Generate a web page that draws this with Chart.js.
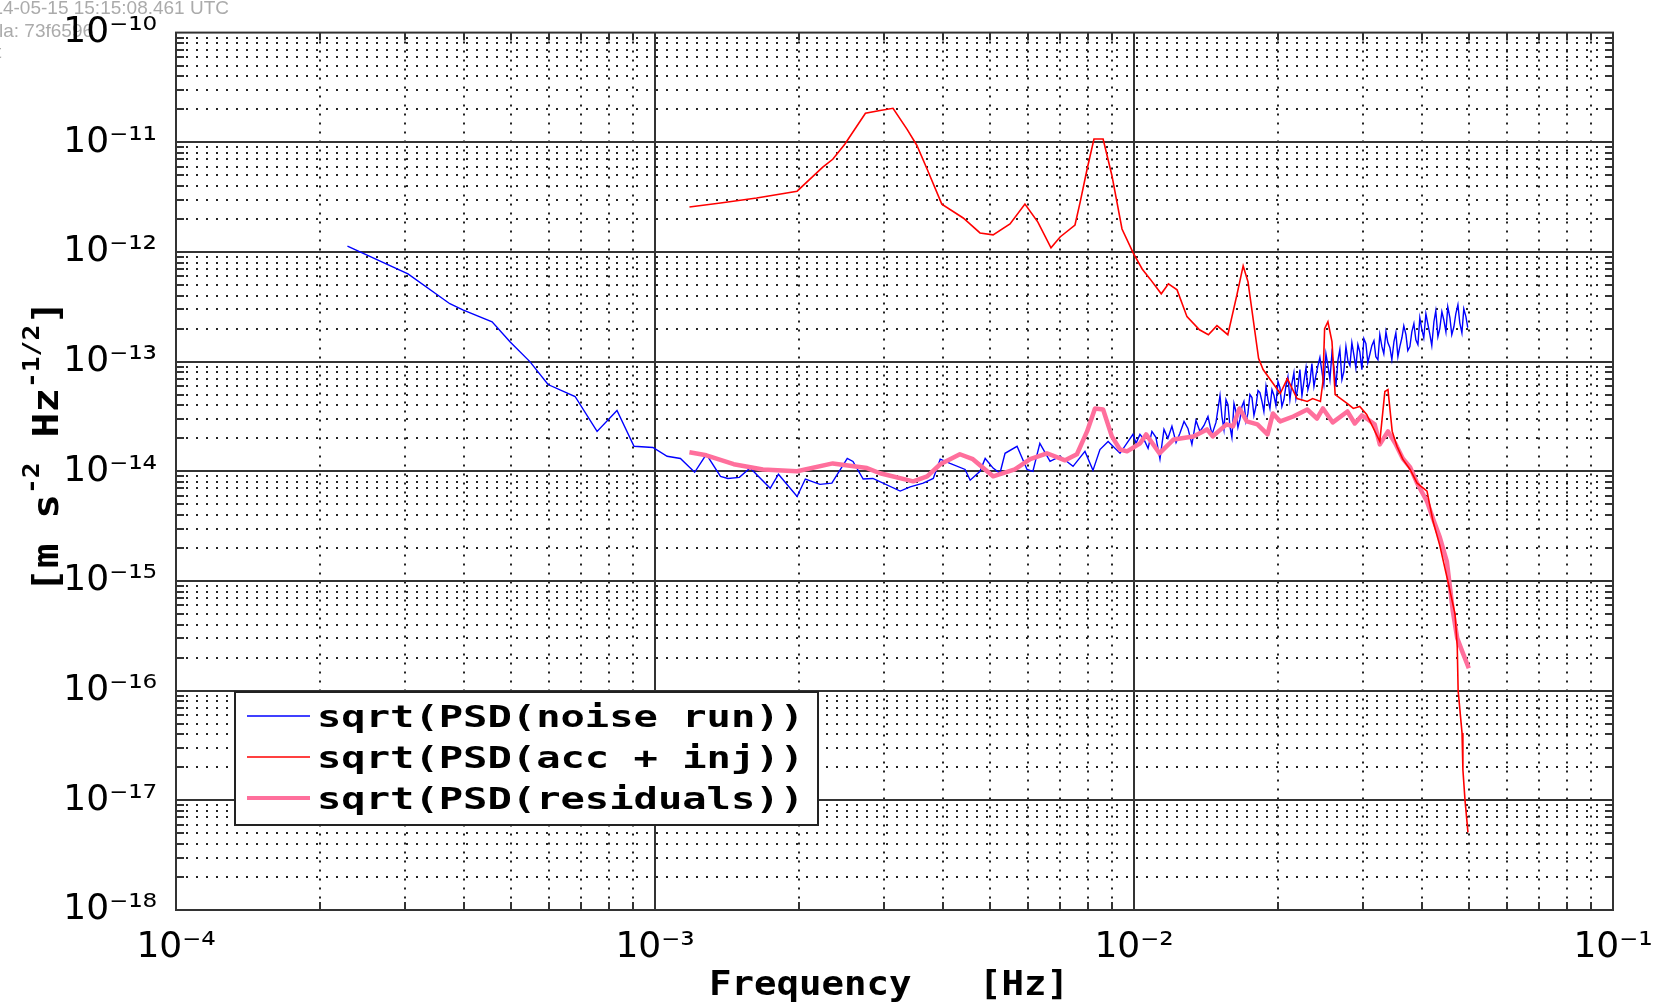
<!DOCTYPE html>
<html>
<head>
<meta charset="utf-8">
<script src="https://cdn.jsdelivr.net/npm/chart.js@4.4.0/dist/chart.umd.min.js"></script>
<style>
  html, body { margin: 0; padding: 0; background: #fff; }
  #wrap { width: 1665px; height: 1004px; }
</style>
</head>
<body>
<div id="wrap"><canvas id="myChart" width="1665" height="1004"></canvas></div>
<script>
// sqrt(PSD(noise run))
const noiseFreq = [2.28e-4, 3.05e-4, 3.73e-4, 3.97e-4, 4.57e-4, 4.98e-4, 5.48e-4, 5.98e-4, 6.81e-4, 7.57e-4,
  8.33e-4, 9.04e-4, 9.9e-4, 1.06e-3, 1.13e-3, 1.21e-3, 1.28e-3, 1.37e-3, 1.42e-3, 1.50e-3,
  1.58e-3, 1.74e-3, 1.81e-3, 1.98e-3, 2.06e-3, 2.21e-3, 2.34e-3, 2.52e-3, 2.59e-3, 2.72e-3,
  2.85e-3, 3.25e-3, 3.41e-3, 3.63e-3, 3.81e-3, 3.94e-3, 4.13e-3, 4.44e-3, 4.55e-3, 4.77e-3,
  4.89e-3, 5.08e-3, 5.25e-3, 5.38e-3, 5.70e-3, 5.98e-3, 6.15e-3, 6.36e-3, 6.68e-3, 7.01e-3,
  7.46e-3, 7.90e-3, 8.21e-3, 8.49e-3, 8.83e-3, 9.35e-3, 9.95e-3,
  1.010e-2, 1.029e-2, 1.049e-2, 1.070e-2, 1.090e-2, 1.111e-2, 1.133e-2, 1.155e-2, 1.177e-2, 1.200e-2,
  1.224e-2, 1.247e-2, 1.272e-2, 1.296e-2, 1.321e-2, 1.347e-2, 1.373e-2, 1.400e-2, 1.427e-2, 1.455e-2,
  1.483e-2, 1.512e-2, 1.541e-2, 1.571e-2, 1.601e-2, 1.632e-2, 1.664e-2, 1.696e-2, 1.729e-2, 1.763e-2,
  1.797e-2, 1.832e-2, 1.867e-2, 1.904e-2, 1.941e-2, 1.978e-2, 2.017e-2, 2.056e-2, 2.096e-2, 2.136e-2,
  2.178e-2, 2.220e-2, 2.263e-2, 2.307e-2, 2.352e-2, 2.397e-2, 2.444e-2, 2.491e-2, 2.540e-2, 2.589e-2,
  2.639e-2, 2.690e-2, 2.742e-2, 2.796e-2, 2.850e-2, 2.905e-2, 2.961e-2, 3.019e-2, 3.077e-2, 3.137e-2,
  3.198e-2, 3.260e-2, 3.323e-2, 3.388e-2, 3.454e-2, 3.521e-2, 3.589e-2, 3.658e-2, 3.729e-2, 3.802e-2,
  3.876e-2, 3.951e-2, 4.027e-2, 4.105e-2, 4.185e-2, 4.266e-2, 4.349e-2, 4.433e-2, 4.519e-2, 4.607e-2,
  4.697e-2, 4.788e-2, 4.881e-2, 4.975e-2]
const noisePsd = [1.13e-12, 6.3e-13, 3.37e-13, 2.97e-13, 2.31e-13, 1.52e-13, 1.0e-13, 6.18e-14, 4.81e-14, 2.31e-14,
  3.59e-14, 1.69e-14, 1.65e-14, 1.37e-14, 1.31e-14, 9.8e-15, 1.43e-14, 9.0e-15, 8.6e-15, 8.8e-15,
  1.07e-14, 7.0e-15, 9.4e-15, 5.9e-15, 8.5e-15, 7.6e-15, 7.8e-15, 1.31e-14, 1.23e-14, 8.5e-15,
  8.6e-15, 6.6e-15, 7.2e-15, 7.8e-15, 8.6e-15, 1.29e-14, 1.18e-14, 1.04e-14, 8.3e-15, 1.0e-14,
  1.31e-14, 1.07e-14, 9.6e-15, 1.46e-14, 1.69e-14, 1.04e-14, 1.0e-14, 1.80e-14, 1.23e-14, 1.37e-14,
  1.11e-14, 1.52e-14, 1.02e-14, 1.58e-14, 1.87e-14, 1.46e-14, 2.17e-14,
  1.80e-14, 2.17e-14, 1.95e-14, 1.62e-14, 2.31e-14, 2.04e-14, 1.29e-14, 2.41e-14, 2.00e-14, 2.57e-14,
  1.83e-14, 2.22e-14, 2.85e-14, 2.46e-14, 1.76e-14, 2.91e-14, 2.31e-14, 2.62e-14, 3.16e-14, 2.17e-14,
  2.79e-14, 4.91e-14, 2.41e-14, 4.06e-14, 2.04e-14, 3.51e-14, 2.97e-14, 4.33e-14, 3.37e-14, 4.71e-14,
  3.90e-14, 5.22e-14, 3.51e-14, 4.51e-14, 5.56e-14, 3.98e-14, 5.80e-14, 4.51e-14, 7.30e-14, 6.31e-14,
  4.61e-14, 8.46e-14, 6.58e-14, 5.56e-14, 9.59e-14, 7.46e-14, 1.09e-13, 6.18e-14, 9.20e-14, 1.18e-13,
  5.93e-14, 1.29e-13, 8.11e-14, 1.02e-13, 1.49e-13, 8.82e-14, 1.23e-13, 1.62e-13, 9.79e-14, 1.40e-13,
  1.11e-13, 1.76e-13, 1.18e-13, 1.49e-13, 1.04e-13, 1.83e-13, 1.37e-13, 2.12e-13, 1.26e-13, 1.87e-13,
  1.58e-13, 2.51e-13, 1.65e-13, 2.22e-13, 1.40e-13, 2.91e-13, 2.00e-13, 2.41e-13, 3.16e-13, 1.76e-13,
  2.73e-13, 2.26e-13, 3.03e-13, 2.04e-13]
// extra noise-run bins in the dense high-frequency band, merged in by frequency
const noiseFreqFine = [1.526e-2, 1.556e-2, 1.586e-2, 1.617e-2, 1.648e-2, 1.680e-2, 1.713e-2, 1.746e-2, 1.780e-2, 1.815e-2,
  1.850e-2, 1.886e-2, 1.922e-2, 1.960e-2, 1.998e-2, 2.036e-2, 2.076e-2, 2.116e-2, 2.157e-2, 2.199e-2,
  2.242e-2, 2.286e-2, 2.330e-2, 2.375e-2, 2.421e-2, 2.468e-2, 2.516e-2, 2.565e-2, 2.615e-2, 2.666e-2,
  2.717e-2, 2.770e-2, 2.824e-2, 2.879e-2, 2.934e-2, 2.991e-2, 3.049e-2, 3.109e-2, 3.169e-2, 3.230e-2,
  3.293e-2, 3.357e-2, 3.422e-2, 3.489e-2, 3.556e-2, 3.625e-2, 3.696e-2, 3.767e-2, 3.840e-2, 3.915e-2,
  3.991e-2, 4.068e-2, 4.147e-2, 4.228e-2, 4.310e-2, 4.393e-2, 4.479e-2, 4.566e-2, 4.654e-2, 4.745e-2,
  4.837e-2, 4.931e-2]
const noisePsdFine = [3.16e-14, 4.51e-14, 2.57e-14, 4.15e-14, 2.51e-14, 3.90e-14, 2.85e-14, 5.01e-14, 3.23e-14, 5.45e-14,
  4.33e-14, 5.93e-14, 3.74e-14, 4.91e-14, 6.58e-14, 3.90e-14, 6.05e-14, 4.51e-14, 7.94e-14, 5.93e-14,
  4.91e-14, 8.82e-14, 6.58e-14, 5.93e-14, 9.20e-14, 8.11e-14, 1.18e-13, 6.86e-14, 8.82e-14, 1.04e-13,
  6.86e-14, 1.37e-13, 9.20e-14, 1.14e-13, 1.43e-13, 8.46e-14, 1.46e-13, 1.18e-13, 1.55e-13, 1.04e-13,
  1.37e-13, 1.87e-13, 1.34e-13, 1.52e-13, 1.11e-13, 1.65e-13, 1.76e-13, 1.37e-13, 2.22e-13, 1.43e-13,
  1.95e-13, 2.73e-13, 1.76e-13, 2.31e-13, 1.69e-13, 2.85e-13, 1.87e-13, 2.51e-13, 2.08e-13, 3.30e-13,
  1.83e-13, 2.57e-13]

// sqrt(PSD(acc + inj))
const accFreq = [1.18e-3, 1.37e-3, 1.63e-3, 1.98e-3, 2.24e-3, 2.35e-3, 2.49e-3, 2.75e-3, 2.95e-3, 3.14e-3,
  3.36e-3, 3.52e-3, 3.70e-3, 3.97e-3, 4.40e-3, 4.77e-3, 5.08e-3, 5.51e-3, 5.92e-3, 6.30e-3,
  6.71e-3, 7.01e-3, 7.53e-3, 7.72e-3, 7.98e-3, 8.25e-3, 8.62e-3, 8.99e-3, 9.44e-3, 9.96e-3,
  1.04e-2, 1.08e-2, 1.14e-2, 1.18e-2, 1.23e-2, 1.29e-2, 1.37e-2, 1.43e-2, 1.49e-2, 1.57e-2,
  1.64e-2, 1.69e-2, 1.73e-2, 1.82e-2, 1.86e-2, 2.02e-2, 2.09e-2, 2.19e-2, 2.30e-2, 2.36e-2,
  2.45e-2, 2.48e-2, 2.50e-2, 2.54e-2, 2.59e-2, 2.63e-2, 2.79e-2, 2.87e-2, 2.96e-2, 3.06e-2,
  3.26e-2, 3.34e-2, 3.39e-2, 3.46e-2, 3.54e-2, 3.64e-2, 3.77e-2, 3.90e-2, 4.09e-2, 4.21e-2,
  4.35e-2, 4.52e-2, 4.68e-2, 4.73e-2, 4.75e-2, 4.84e-2, 4.86e-2, 4.91e-2, 4.98e-2]
const accPsd = [2.57e-12, 2.79e-12, 3.10e-12, 3.58e-12, 5.93e-12, 7.0e-12, 9.6e-12, 1.84e-11, 1.95e-11, 2.04e-11,
  1.31e-11, 9.4e-12, 5.68e-12, 2.73e-12, 2.04e-12, 1.49e-12, 1.43e-12, 1.80e-12, 2.73e-12, 1.87e-12,
  1.09e-12, 1.37e-12, 1.76e-12, 2.85e-12, 5.68e-12, 1.07e-11, 1.07e-11, 5.01e-12, 1.62e-12, 9.8e-13,
  7.0e-13, 5.68e-13, 4.15e-13, 5.12e-13, 4.51e-13, 2.57e-13, 1.95e-13, 1.76e-13, 2.13e-13, 1.76e-13,
  4.06e-13, 7.46e-13, 5.34e-13, 1.07e-13, 8.46e-14, 5.12e-14, 7.0e-14, 4.61e-14, 4.33e-14, 4.61e-14,
  4.33e-14, 6.58e-14, 2.0e-13, 2.31e-13, 1.52e-13, 5.01e-14, 4.15e-14, 3.74e-14, 3.90e-14, 3.30e-14,
  1.87e-14, 5.34e-14, 5.56e-14, 2.31e-14, 1.69e-14, 1.29e-14, 1.04e-14, 7.8e-15, 6.6e-15, 3.5e-15,
  2.1e-15, 1.0e-15, 5.0e-16, 2.5e-16, 1.0e-16, 4.1e-17, 1.9e-17, 1.0e-17, 5.1e-18]

// sqrt(PSD(residuals))
const resFreq = [1.18e-3, 1.28e-3, 1.46e-3, 1.68e-3, 1.98e-3, 2.35e-3, 2.77e-3, 2.95e-3, 3.46e-3, 3.70e-3,
  3.94e-3, 4.33e-3, 4.61e-3, 5.08e-3, 5.64e-3, 6.07e-3, 6.58e-3, 7.18e-3, 7.60e-3, 7.98e-3,
  8.29e-3, 8.62e-3, 8.99e-3, 9.35e-3, 9.67e-3, 1.03e-2, 1.06e-2, 1.13e-2, 1.21e-2, 1.33e-2,
  1.42e-2, 1.46e-2, 1.56e-2, 1.61e-2, 1.66e-2, 1.72e-2, 1.81e-2, 1.90e-2, 1.95e-2, 2.02e-2,
  2.15e-2, 2.30e-2, 2.41e-2, 2.48e-2, 2.60e-2, 2.79e-2, 2.89e-2, 2.99e-2, 3.08e-2, 3.18e-2,
  3.26e-2, 3.39e-2, 3.51e-2, 3.64e-2, 3.77e-2, 3.90e-2, 4.09e-2, 4.21e-2, 4.35e-2, 4.50e-2,
  4.57e-2, 4.63e-2, 4.73e-2, 4.86e-2, 5.0e-2]
const resPsd = [1.49e-14, 1.40e-14, 1.16e-14, 1.04e-14, 1.0e-14, 1.18e-14, 1.07e-14, 9.6e-15, 8.1e-15, 9.0e-15,
  1.16e-14, 1.43e-14, 1.29e-14, 9.0e-15, 1.04e-14, 1.29e-14, 1.46e-14, 1.26e-14, 1.43e-14, 2.31e-14,
  3.74e-14, 3.66e-14, 2.08e-14, 1.58e-14, 1.52e-14, 1.80e-14, 2.17e-14, 1.46e-14, 1.95e-14, 2.08e-14,
  2.41e-14, 2.08e-14, 2.68e-14, 2.57e-14, 3.74e-14, 2.85e-14, 2.68e-14, 2.17e-14, 3.37e-14, 2.85e-14,
  3.16e-14, 3.66e-14, 3.03e-14, 3.74e-14, 2.79e-14, 3.51e-14, 2.73e-14, 3.23e-14, 2.97e-14, 2.68e-14,
  1.76e-14, 2.31e-14, 1.80e-14, 1.31e-14, 1.09e-14, 7.8e-15, 5.3e-15, 3.7e-15, 2.5e-15, 1.5e-15,
  8.6e-16, 5.3e-16, 3.0e-16, 2.2e-16, 1.6e-16]

const seriesLabels = ['sqrt(PSD(noise run))', 'sqrt(PSD(acc + inj))', 'sqrt(PSD(residuals))']
const seriesColors = ['#0000ff', '#ff0000', '#ff6f9c']
const seriesWidths = [1.4, 1.6, 4.5]

const xTickExps = [-4, -3, -2, -1]
const yTickExps = [-18, -17, -16, -15, -14, -13, -12, -11, -10]
const xTitle = 'Frequency   [Hz]'
const yTitleParts = [['[m s', false], ['-2', true], [' Hz', false], ['-1/2', true], [']', false]]
const stampLines = ['2014-05-15 15:15:08.461 UTC', 'la: 73f6596', 't']

const supMap = {'-': '\u207b', '0': '\u2070', '1': '\u00b9', '2': '\u00b2', '3': '\u00b3', '4': '\u2074',
  '5': '\u2075', '6': '\u2076', '7': '\u2077', '8': '\u2078', '9': '\u2079'}

function powLabel(v) {
  const e = Math.log10(v)
  const r = Math.round(e)
  if (Math.abs(e - r) > 1e-6) return ''
  return '10' + String(r).split('').map(c => supMap[c]).join('')
}

function pairs(fs, vs) {
  return fs.map((f, i) => ({x: f, y: vs[i]}))
}

function mono(size, weight) {
  return (weight || 'normal') + ' ' + size + 'px "DejaVu Sans Mono", "Liberation Mono", monospace'
}

const noiseData = pairs(noiseFreq, noisePsd).concat(pairs(noiseFreqFine, noisePsdFine)).sort((a, b) => a.x - b.x)

// grid, frame, inner ticks, stamp, legend and titles
const framePlugin = {
  id: 'frame',
  beforeDraw(chart) {
    const ctx = chart.ctx
    ctx.save()
    ctx.fillStyle = '#fff'
    ctx.fillRect(0, 0, chart.width, chart.height)
    ctx.fillStyle = '#ababab'
    ctx.font = '19px "Liberation Sans", Arial, sans-serif'
    ctx.textAlign = 'right'
    ctx.fillText(stampLines[0], 229, 14)
    ctx.textAlign = 'left'
    ctx.fillText(stampLines[1], -1, 37)
    ctx.fillText(stampLines[2], -4, 58)
    ctx.restore()
  },
  beforeDatasetsDraw(chart) {
    const {ctx, chartArea: a, scales: {x, y}} = chart
    const xs = [], ys = []
    for (let e = xTickExps[0]; e < xTickExps[xTickExps.length - 1]; e++)
      for (let k = 1; k <= 9; k++) xs.push({p: Math.round(x.getPixelForValue(k * Math.pow(10, e))), major: k === 1})
    for (let e = yTickExps[0]; e < yTickExps[yTickExps.length - 1]; e++)
      for (let k = 1; k <= 9; k++) ys.push({p: Math.round(y.getPixelForValue(k * Math.pow(10, e))), major: k === 1})

    ctx.save()
    // dotted minor grid
    ctx.strokeStyle = '#222'
    ctx.lineWidth = 2
    ctx.setLineDash([2, 8])
    ys.filter(t => !t.major).forEach(t => {
      ctx.beginPath(); ctx.moveTo(a.left, t.p); ctx.lineTo(a.right, t.p); ctx.stroke()
    })
    ctx.setLineDash([2, 7])
    xs.filter(t => !t.major).forEach(t => {
      ctx.beginPath(); ctx.moveTo(t.p, a.top); ctx.lineTo(t.p, a.bottom); ctx.stroke()
    })
    // solid decade lines
    ctx.setLineDash([])
    ctx.strokeStyle = '#333'
    ctx.lineWidth = 2
    ys.filter(t => t.major).forEach(t => {
      ctx.beginPath(); ctx.moveTo(a.left, t.p); ctx.lineTo(a.right, t.p); ctx.stroke()
    })
    xs.filter(t => t.major).forEach(t => {
      ctx.beginPath(); ctx.moveTo(t.p, a.top); ctx.lineTo(t.p, a.bottom); ctx.stroke()
    })
    // inner ticks
    ys.forEach(t => {
      ctx.beginPath()
      ctx.moveTo(a.left, t.p); ctx.lineTo(a.left + 8, t.p)
      ctx.moveTo(a.right, t.p); ctx.lineTo(a.right - 8, t.p)
      ctx.stroke()
    })
    xs.forEach(t => {
      ctx.beginPath()
      ctx.moveTo(t.p, a.bottom); ctx.lineTo(t.p, a.bottom - 8)
      ctx.moveTo(t.p, a.top); ctx.lineTo(t.p, a.top + 8)
      ctx.stroke()
    })
    ctx.restore()
  },
  afterDatasetsDraw(chart) {
    const {ctx, chartArea: a} = chart
    ctx.save()
    ctx.strokeStyle = '#333'
    ctx.lineWidth = 2
    ctx.strokeRect(a.left, a.top, a.right - a.left, a.bottom - a.top)

    // legend box
    const bx = 235, by = 692, bw = 583, bh = 133
    ctx.fillStyle = '#fff'
    ctx.fillRect(bx, by, bw, bh)
    ctx.strokeStyle = '#222'
    ctx.strokeRect(bx, by, bw, bh)
    ctx.font = mono(30, 'bold')
    ctx.fillStyle = '#000'
    ctx.textBaseline = 'alphabetic'
    const sx = 487 / ctx.measureText(seriesLabels[0]).width
    seriesLabels.forEach((lab, i) => {
      const cy = 716 + i * 41
      ctx.strokeStyle = seriesColors[i]
      ctx.lineWidth = seriesWidths[i] > 3 ? 4 : 1.6
      ctx.beginPath(); ctx.moveTo(247, cy); ctx.lineTo(310, cy); ctx.stroke()
      ctx.save()
      ctx.translate(317, cy + 11)
      ctx.scale(sx, 1)
      ctx.fillText(lab, 0, 0)
      ctx.restore()
    })

    // x title
    ctx.font = mono(33, 'bold')
    const xw = ctx.measureText(xTitle).width
    ctx.save()
    ctx.translate(709, 995)
    ctx.scale(360 / xw, 1)
    ctx.fillText(xTitle, 0, 0)
    ctx.restore()

    // y title, rotated, with superscripts
    let total = 0
    yTitleParts.forEach(([t, sup]) => { ctx.font = mono(sup ? 23 : 36, 'bold'); total += ctx.measureText(t).width })
    ctx.save()
    ctx.translate(58, 593)
    ctx.rotate(-Math.PI / 2)
    ctx.scale(293 / total, 1)
    let cx = 0
    yTitleParts.forEach(([t, sup]) => {
      ctx.font = mono(sup ? 23 : 36, 'bold')
      ctx.fillText(t, cx, sup ? -19 : 0)
      cx += ctx.measureText(t).width
    })
    ctx.restore()
    ctx.restore()
  }
}

const ctx = document.getElementById('myChart')

const myChart = new Chart(ctx, {
  type: 'line',
  data: {
    datasets: [{
      label: seriesLabels[0],
      data: noiseData,
      borderColor: seriesColors[0],
      borderWidth: seriesWidths[0],
      order: 3
    }, {
      label: seriesLabels[1],
      data: pairs(accFreq, accPsd),
      borderColor: seriesColors[1],
      borderWidth: seriesWidths[1],
      order: 1
    }, {
      label: seriesLabels[2],
      data: pairs(resFreq, resPsd),
      borderColor: seriesColors[2],
      borderWidth: seriesWidths[2],
      borderJoinStyle: 'round',
      order: 2
    }]
  },
  options: {
    responsive: false,
    animation: false,
    events: [],
    layout: { padding: { top: 30, right: 52, left: 0, bottom: 0 } },
    elements: { point: { radius: 0 }, line: { tension: 0 } },
    plugins: { legend: { display: false }, tooltip: { enabled: false } },
    scales: {
      x: {
        type: 'logarithmic',
        min: 1e-4,
        max: 1e-1,
        grid: { display: false },
        border: { display: false },
        afterBuildTicks: s => { s.ticks = xTickExps.map(e => ({value: parseFloat('1e' + e)})) },
        afterFit: s => { s.height = 94 },
        ticks: {
          autoSkip: false,
          maxRotation: 0,
          padding: 8,
          color: '#000',
          font: { family: '"DejaVu Sans", sans-serif', size: 36 },
          callback: v => powLabel(v)
        }
      },
      y: {
        type: 'logarithmic',
        min: 1e-18,
        max: 1e-10,
        grid: { display: false },
        border: { display: false },
        afterBuildTicks: s => { s.ticks = yTickExps.map(e => ({value: parseFloat('1e' + e)})) },
        afterFit: s => { s.width = 176 },
        ticks: {
          autoSkip: false,
          padding: 11,
          color: '#000',
          font: { family: '"DejaVu Sans", sans-serif', size: 36 },
          callback: v => powLabel(v)
        }
      }
    }
  },
  plugins: [framePlugin]
});
</script>
</body>
</html>
